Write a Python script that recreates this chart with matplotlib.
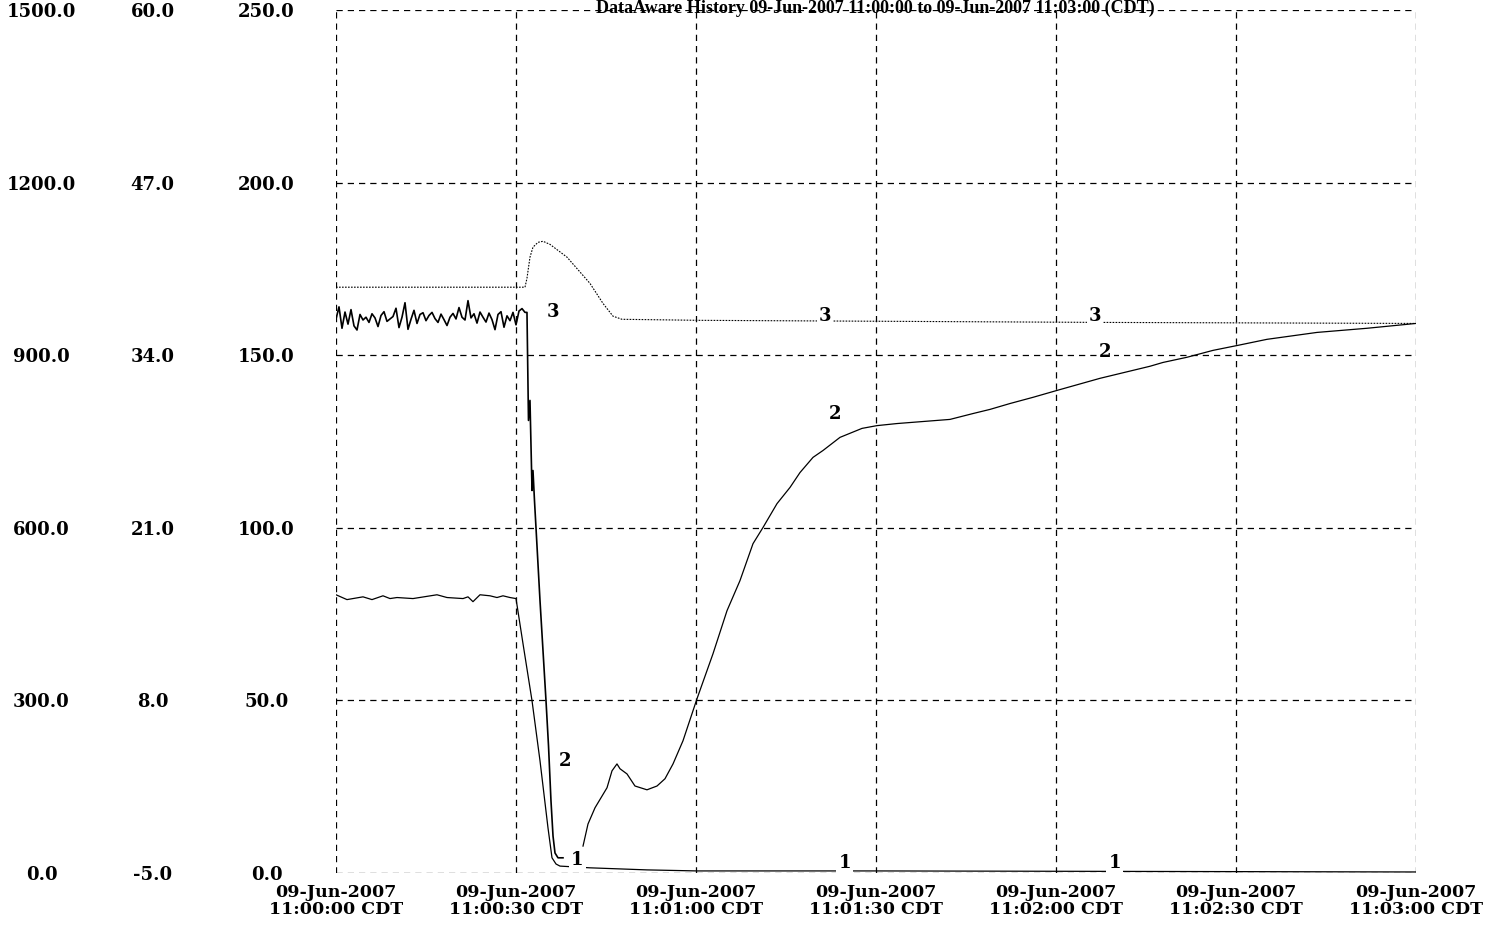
import numpy as np
import matplotlib as mpl
mpl.use('Agg')
import matplotlib.pyplot as plt

plt.rcParams['font.family'] = ['DejaVu Serif']
plt.rcParams['font.weight'] = 'bold'

# time in seconds after 11:00:00, values on the inner 0-250 scale
t_ticks = [0, 30, 60, 90, 120, 150, 180]
t_labels = ['09-Jun-2007\n11:%02d:%02d CDT' % (s // 60, s % 60) for s in t_ticks]

scale_a = [0.0, 300.0, 600.0, 900.0, 1200.0, 1500.0]
scale_b = [-5.0, 8.0, 21.0, 34.0, 47.0, 60.0]
scale_c = [0.0, 50.0, 100.0, 150.0, 200.0, 250.0]

# pen 1
t1 = [0, 1.83, 4.5, 6.0, 7.83, 9.0, 10.17, 12.83, 16.83, 18.5, 21.17, 22.0,
      22.83, 24.0, 25.67, 26.83, 27.83, 29.0, 30.0, 31.17, 32.67, 34.0, 35.33,
      36.0, 36.67, 37.33, 42.33, 51.83, 60.17, 90.0, 180.0]
v1 = [80.6, 79.2, 80.0, 79.2, 80.3, 79.5, 79.8, 79.5, 80.6, 79.8, 79.5, 80.0,
      78.6, 80.6, 80.3, 79.8, 80.3, 79.8, 79.5, 66.4, 49.9, 32.5, 13.1,
      4.4, 2.6, 2.0, 1.5, 0.9, 0.6, 0.6, 0.3]

# pen 2: noisy steady part, the drop, a gap, then the recovery
v2_noise = [160.5, 164.0, 157.8, 162.5, 159.0, 163.2, 158.5, 157.3, 161.8, 160.2,
            161.0, 159.5, 162.0, 160.8, 158.3, 161.5, 162.6, 159.8, 160.5, 161.2,
            163.6, 158.0, 161.0, 165.2, 157.5, 160.4, 163.0, 159.2, 161.8, 162.3,
            160.0, 161.5, 162.4, 160.6, 159.5, 161.9, 160.3, 158.6, 161.0, 162.1,
            160.5, 163.8, 161.0, 160.2, 165.8, 160.8, 162.0, 159.3, 162.5, 161.0,
            159.6, 162.2, 160.3, 157.4, 161.8, 162.6, 158.1, 161.4, 160.0, 162.4,
            158.8, 162.8, 163.5, 162.4]
t2_noise = list(np.arange(len(v2_noise)) * 0.5)
t2_drop = [31.83, 32.08, 32.33, 32.67, 32.83, 33.08, 33.33, 34.0, 34.5, 35.0,
           35.42, 35.83, 36.17, 36.5, 37.0, 37.83]
v2_drop = [162.4, 131.1, 136.9, 110.8, 116.6, 107.9, 100.1, 78.9, 64.4, 49.9,
           36.8, 20.9, 10.7, 5.8, 4.4, 4.4]
t2_rise = [41.17, 42.0, 43.17, 45.17, 46.0, 46.83, 47.33, 48.5, 49.83, 51.83,
           53.5, 54.83, 56.17, 57.83, 60.17, 62.83, 65.17, 67.33, 69.5, 71.17,
           73.5, 75.67, 77.33, 79.5, 81.17, 84.0, 87.67, 90.17, 93.5, 102.33,
           106.17, 109.0, 112.33, 116.17, 120.17, 127.33, 135.67, 137.83, 141.83,
           146.17, 150.17, 155.17, 163.5, 171.83, 180.0]
v2_rise = [7.8, 14.2, 18.9, 24.7, 29.6, 31.6, 30.2, 28.7, 25.2, 24.1,
           25.2, 27.3, 31.6, 38.3, 50.5, 63.5, 76.0, 84.7, 95.4, 100.1,
           107.0, 111.7, 116.0, 120.4, 122.4, 126.2, 128.8, 129.6, 130.2, 131.4,
           133.1, 134.3, 136.0, 137.8, 139.8, 143.3, 146.8, 147.9, 149.4,
           151.4, 152.8, 154.6, 156.6, 157.8, 159.2]

# pen 3
t3 = [0, 31.5, 31.83, 32.33, 32.83, 33.67, 34.5, 35.67, 38.5, 42.33, 44.5,
      46.17, 47.67, 60.67, 94.0, 127.33, 180.0]
v3 = [169.7, 169.7, 172.3, 178.4, 181.3, 182.7, 183.0, 182.1, 178.4, 170.8, 165.0,
      161.3, 160.4, 160.1, 159.8, 159.5, 159.2]

# pen number tags
tag_text = ['3', '3', '3', '2', '2', '2', '1', '1', '1']
tag_t = [36.2, 81.5, 126.5, 38.2, 83.2, 128.2, 40.2, 84.8, 129.8]
tag_v = [162.4, 161.5, 161.5, 32.5, 133.1, 150.8, 3.8, 2.9, 2.9]

W, H = 1503, 925
fig = plt.figure(figsize=(W / 100, H / 100), dpi=100)
ax = fig.add_axes([336 / W, 1 - 873 / H, 1080 / W, 863 / H])

ax.plot(t1, v1, color='k', lw=0.9)
ax.plot(t2_noise + t2_drop, v2_noise + v2_drop, color='k', lw=1.2)
ax.plot(t2_rise, v2_rise, color='k', lw=0.9)
ax.plot(t3, v3, color='k', lw=0.8, ls=(0, (1.5, 1.2)))

for s, x, y in zip(tag_text, tag_t, tag_v):
    ax.text(x, y, s, fontsize=13, fontweight='bold', ha='center', va='center',
            bbox=dict(facecolor='white', edgecolor='none', pad=1.5))

ax.set_xlim(0, 180)
ax.set_ylim(0, 250)
ax.set_xticks(t_ticks)
ax.set_xticklabels(t_labels, fontsize=12.5, linespacing=1.0)
ax.set_yticks(scale_c)
ax.set_yticklabels(['%.1f' % v for v in scale_c], fontsize=13)
ax.grid(True, color='k', lw=0.9, ls=(0, (5, 4)))
ax.tick_params(length=0)
ax.tick_params(axis='x', pad=8)
ax.tick_params(axis='y', pad=50)
for lab in ax.get_yticklabels():
    lab.set_horizontalalignment('center')
for sp in ax.spines.values():
    sp.set_visible(False)

# two outer scales on the left
for vals, pad in [(scale_b, 132), (scale_a, 212)]:
    tax = ax.twinx()
    tax.yaxis.tick_left()
    tax.set_ylim(vals[0], vals[-1])
    tax.set_yticks(vals)
    tax.set_yticklabels(['%.1f' % v for v in vals], fontsize=13)
    tax.tick_params(length=0, pad=pad)
    for lab in tax.get_yticklabels():
        lab.set_horizontalalignment('center')
    for sp in tax.spines.values():
        sp.set_visible(False)

fig.text(875 / W, 1.0, 'DataAware History 09-Jun-2007 11:00:00 to 09-Jun-2007 11:03:00 (CDT)',
         ha='center', va='top', fontsize=13, fontweight='bold',
         family='Liberation Serif')

fig.savefig('out.png', dpi=100)
